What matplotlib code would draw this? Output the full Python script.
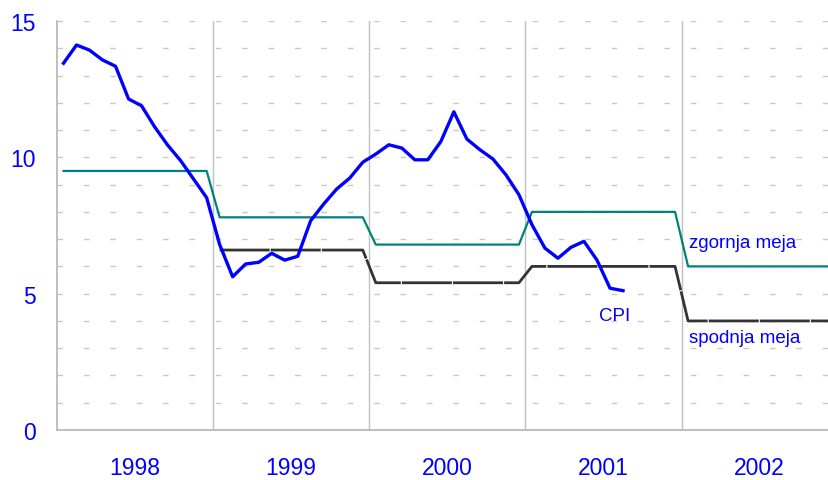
import numpy as np
import matplotlib
matplotlib.use('Agg')
import matplotlib.pyplot as plt

plt.rcParams['font.family'] = ['Liberation Sans', 'DejaVu Sans']

years = ['1998', '1999', '2000', '2001', '2002']

# monthly CPI, Jan 1998 - Aug 2001
cpi = [13.45, 14.12, 13.93, 13.57, 13.34, 12.14, 11.89, 11.12, 10.45, 9.88, 9.20, 8.52,
       6.80, 5.62, 6.09, 6.15, 6.48, 6.23, 6.37, 7.68, 8.29, 8.84, 9.24, 9.82,
       10.12, 10.46, 10.34, 9.91, 9.91, 10.58, 11.67, 10.67, 10.28, 9.94, 9.36, 8.63,
       7.53, 6.67, 6.30, 6.70, 6.92, 6.23, 5.20, 5.11]

# yearly target band (upper / lower), no lower bound in 1998
upper_year = [9.5, 7.8, 6.8, 8.0, 6.0]
lower_year = [np.nan, 6.6, 5.4, 6.0, 4.0]

upper = np.repeat(upper_year, 12)
lower = np.repeat(lower_year, 12)

x_cpi = np.arange(len(cpi)) + 0.5
x_band = np.arange(len(upper)) + 0.5

fig = plt.figure(figsize=(8.29, 4.81), dpi=100)
ax = fig.add_axes([57/829, 50/481, 772/829, 409/481])

ax.set_xlim(0, 59.33)
ax.set_ylim(0, 15)

# grid
for y in range(1, 16):
    ax.axhline(y, color='#c8c8c8', lw=1, ls=(0, (4, 15)), zorder=0)
for xb in [12, 24, 36, 48]:
    ax.axvline(xb, color='#c0c0c0', lw=1, zorder=0)

ax.plot(x_band, upper, color='#008080', lw=1.6, zorder=2)
ax.plot(x_band, lower, color='#333333', lw=2.0, ls=(0, (18, 0.4)), zorder=2)
ax.plot(x_cpi, cpi, color='#0000ff', lw=2.4, zorder=3)

ax.text(48.6, 6.7, 'zgornja meja', color='#0000ff', fontsize=13.5)
ax.text(48.6, 3.23, 'spodnja meja', color='#0000ff', fontsize=13.5)
ax.text(41.65, 4.04, 'CPI', color='#0000ff', fontsize=13.5)

ax.set_yticks([0, 5, 10, 15])
ax.tick_params(axis='y', length=0, pad=15, labelsize=16.5, labelcolor='#0000ff')
ax.set_xticks([6, 18, 30, 42, 54])
ax.set_xticklabels(years)
ax.tick_params(axis='x', length=0, pad=19, labelsize=16.5, labelcolor='#0000ff')

for s in ['top', 'right']:
    ax.spines[s].set_visible(False)
for s in ['left', 'bottom']:
    ax.spines[s].set_color('#b4b4b4')
    ax.spines[s].set_linewidth(1.2)

plt.savefig('out.png', dpi=100)
